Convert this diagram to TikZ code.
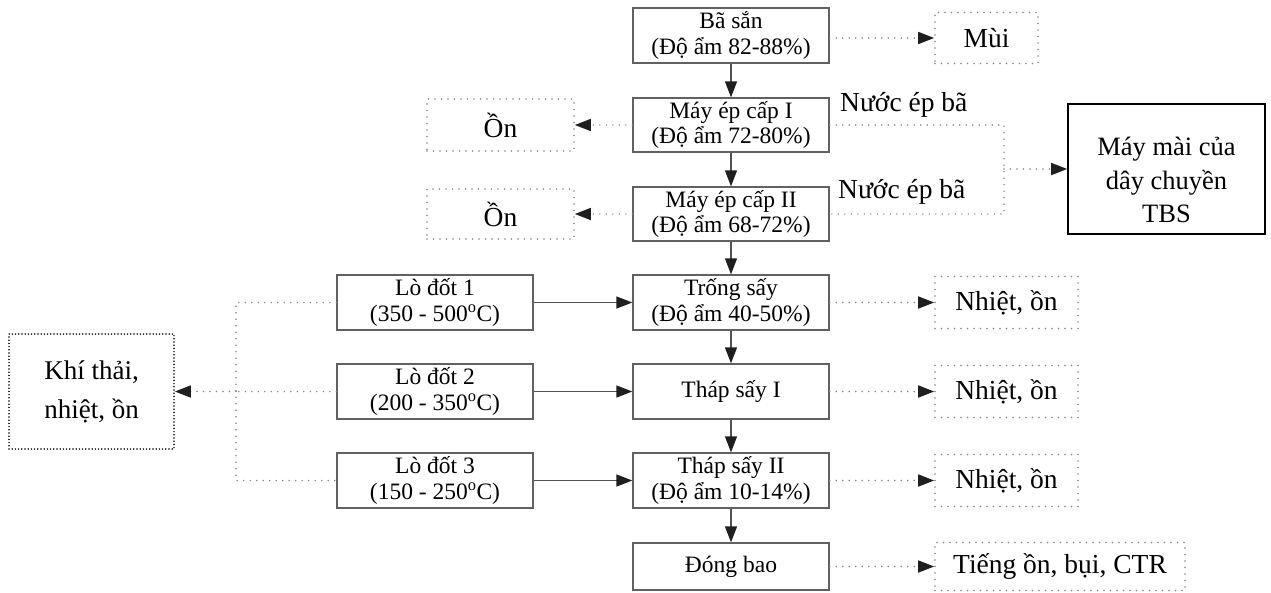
\documentclass[tikz,border=0pt]{standalone}
\usepackage{fontspec}
\setmainfont{Liberation Serif}
\usetikzlibrary{arrows.meta}
\tikzset{
  mainbox/.style={draw=black!62, line width=1.3pt, minimum width=196pt, inner sep=0pt, align=center, font=\fontsize{23.5}{25.5}\selectfont},
  sidebox/.style={draw=black!48, line width=1.7pt, dash pattern=on 0pt off 6.5pt, line cap=round, inner sep=0pt, align=center, font=\fontsize{27.5}{33}\selectfont},
  solidbox/.style={draw=black, line width=1.6pt, inner sep=0pt},
  boxtext/.style={inner sep=0pt, align=center, font=\fontsize{26.5}{33.5}\selectfont},
  densebox/.style={draw=black, line width=1.7pt, dash pattern=on 0pt off 3.2pt, line cap=round, inner sep=0pt, align=center, font=\fontsize{27}{39}\selectfont},
  flow/.style={draw=black!68, line width=1.3pt, -{Triangle[length=16pt,width=12pt,color=black!88]}},
  dotline/.style={draw=black!48, line width=1.7pt, dash pattern=on 0pt off 6.5pt, line cap=round},
  dotflow/.style={dotline, -{Triangle[length=16pt,width=12pt,color=black!88]}},
  lbl/.style={inner sep=0pt, font=\fontsize{27.5}{30}\selectfont}
}
\begin{document}
\begin{tikzpicture}[x=1pt,y=-1pt]
\useasboundingbox (0,0) rectangle (1271,592);
% main column
\node[mainbox, minimum height=55pt] (bs) at (731,35.5) {Bã sắn\\(Độ ẩm 82-88\%)};
\node[mainbox, minimum height=54pt] (m1) at (731,125) {Máy ép cấp I\\(Độ ẩm 72-80\%)};
\node[mainbox, minimum height=54pt] (m2) at (731,214) {Máy ép cấp II\\(Độ ẩm 68-72\%)};
\node[mainbox, minimum height=55pt] (ts) at (731,302.5) {Trống sấy\\(Độ ẩm 40-50\%)};
\node[mainbox, minimum height=55pt] (t1) at (731,391.5) {Tháp sấy I};
\node[mainbox, minimum height=55pt] (t2) at (731,480.5) {Tháp sấy II\\(Độ ẩm 10-14\%)};
\node[mainbox, minimum height=47pt] (db) at (731,566.5) {Đóng bao};
% furnaces
\node[mainbox, minimum height=55pt] (l1) at (435,302.5) {Lò đốt 1\\(350 - 500\textsuperscript{o}C)};
\node[mainbox, minimum height=55pt] (l2) at (435,391.5) {Lò đốt 2\\(200 - 350\textsuperscript{o}C)};
\node[mainbox, minimum height=55pt] (l3) at (435,480.5) {Lò đốt 3\\(150 - 250\textsuperscript{o}C)};
% side boxes
\node[sidebox, minimum width=103pt, minimum height=51pt] (mui) at (986.5,38) {Mùi};
\node[sidebox, minimum width=147pt, minimum height=52pt] (on1) at (500.5,125) {Ồn};
\node[sidebox, minimum width=147pt, minimum height=50pt] (on2) at (500.5,214) {Ồn};
\node[sidebox, minimum width=143pt, minimum height=52pt] (n1) at (1006.5,302.5) {Nhiệt, ồn};
\node[sidebox, minimum width=143pt, minimum height=52pt] (n2) at (1006.5,391.5) {Nhiệt, ồn};
\node[sidebox, minimum width=143pt, minimum height=52pt] (n3) at (1006.5,480.5) {Nhiệt, ồn};
\node[sidebox, minimum width=250pt, minimum height=48pt] (tn) at (1060,566.5) {Tiếng ồn, bụi, CTR};
\node[solidbox, minimum width=197pt, minimum height=130pt] (tbs) at (1166.5,169) {};
\node[boxtext] (tbst) at (1166.5,180) {Máy mài của\\dây chuyền\\TBS};
\node[densebox, minimum width=165pt, minimum height=115pt] (kt) at (91.5,391.5) {Khí thải,\\nhiệt, ồn};
% labels
\node[lbl, anchor=base west] (nb1) at (840,111) {Nước ép bã};
\node[lbl, anchor=base west] (nb2) at (838,198) {Nước ép bã};
% main flow
\draw[flow] (bs) -- (m1);
\draw[flow] (m1) -- (m2);
\draw[flow] (m2) -- (ts);
\draw[flow] (ts) -- (t1);
\draw[flow] (t1) -- (t2);
\draw[flow] (t2) -- (db);
\draw[flow] (l1) -- (ts);
\draw[flow] (l2) -- (t1);
\draw[flow] (l3) -- (t2);
% dotted outputs
\draw[dotflow] (bs.east |- mui.west) -- (mui.west);
\draw[dotflow] (m1.west) -- (on1.east);
\draw[dotflow] (m2.west) -- (on2.east);
\draw[dotflow] (ts.east) -- (n1.west);
\draw[dotflow] (t1.east) -- (n2.west);
\draw[dotflow] (t2.east) -- (n3.west);
\draw[dotflow] (db.east) -- (tn.west);
% press water to TBS
\coordinate (ja) at (1004,125);
\coordinate (jb) at (1004,214);
\coordinate (jm) at (1004,169);
\draw[dotline] (m1.east) -- (ja) -- (jb) -- (m2.east);
\draw[dotflow] (jm) -- (tbs.west);
% furnaces exhaust
\coordinate (ka) at (236,302.5);
\coordinate (kb) at (236,480.5);
\coordinate (km) at (236,391.5);
\draw[dotline] (l1.west) -- (ka) -- (kb) -- (l3.west);
\draw[dotline] (l2.west) -- (km);
\draw[dotflow] (km) -- (kt.east);
\end{tikzpicture}
\end{document}
